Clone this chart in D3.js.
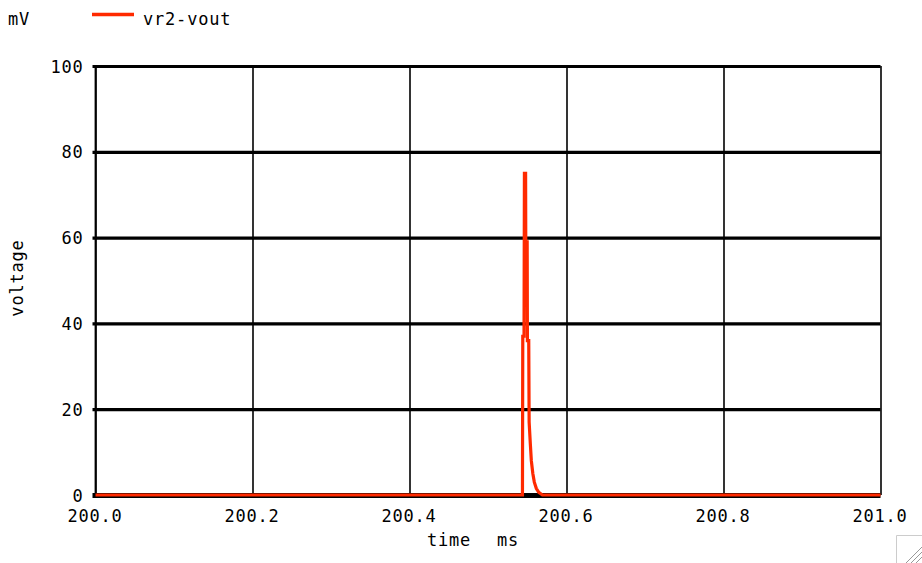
<!DOCTYPE html>
<html>
<head>
<meta charset="utf-8">
<script src="https://cdn.jsdelivr.net/npm/d3@7/dist/d3.min.js"></script>
<style>
  html, body { margin: 0; padding: 0; background: #fff; }
  svg { display: block; }
  text { font-family: "DejaVu Sans Mono", "Liberation Mono", monospace; font-size: 17px; fill: #000; letter-spacing: 0.8px; }
</style>
</head>
<body>
<svg id="chart" width="922" height="563"></svg>
<script>
// ---- data ----
const seriesName = "vr2-vout";
const timeMs = [200.0, 200.5439, 200.5443, 200.5459, 200.5464, 200.5479, 200.5481, 200.5499, 200.5502,
                200.5519, 200.5524, 200.5539, 200.5552, 200.5571, 200.5590, 200.5616, 200.5647,
                200.5693, 201.0];
const voltageMv = [0, 0, 37, 37, 75, 75, 59, 59, 36, 36, 17, 12, 8, 5, 3, 1.5, 0.6, 0, 0];
const xTicks = [200.0, 200.2, 200.4, 200.6, 200.8, 201.0];
const yTicks = [0, 20, 40, 60, 80, 100];
const xDomain = [200.0, 201.0];
const yDomain = [0, 100];

// ---- layout ----
const svg = d3.select("#chart");
const mLeft = 95.5, mRight = 880.5, mTop = 66, mBottom = 495;
const x = d3.scaleLinear().domain(xDomain).range([mLeft, mRight]);
const y = d3.scaleLinear().domain(yDomain).range([mBottom, mTop]);
const red = "#ff2a00";

// vertical grid lines (thin)
const xg = svg.append("g").attr("transform", `translate(0,${mBottom})`)
  .call(d3.axisBottom(x).tickValues(xTicks).tickSize(-(mBottom - mTop)).tickFormat(d3.format(".1f")));
xg.select(".domain").remove();
xg.selectAll(".tick line").attr("stroke", "#000").attr("stroke-width", 1.6);
xg.selectAll(".tick text").attr("font-size", 17).attr("font-family", "DejaVu Sans Mono")
  .attr("y", 27).attr("dy", null).attr("x", -1).attr("fill", "#000");

// horizontal grid lines (thick)
const yg = svg.append("g").attr("transform", `translate(${mLeft},0)`)
  .call(d3.axisLeft(y).tickValues(yTicks).tickSize(-(mRight - mLeft)));
yg.select(".domain").remove();
yg.selectAll(".tick line").attr("x1", -3).attr("stroke", "#000")
  .attr("stroke-width", d => d === 0 ? 5 : 3.2);
yg.selectAll(".tick text").attr("font-size", 17).attr("font-family", "DejaVu Sans Mono").attr("fill", "#000")
  .attr("x", -12).attr("dy", "0.36em");

// left axis line
svg.append("line").attr("x1", mLeft).attr("x2", mLeft).attr("y1", mTop).attr("y2", mBottom)
  .attr("stroke", "#000").attr("stroke-width", 1.8);

// series
const pts = timeMs.map((t, i) => [t, voltageMv[i]]);
svg.append("path").datum(pts)
  .attr("fill", "none").attr("stroke", red).attr("stroke-width", 3.2).attr("stroke-linejoin", "miter")
  .attr("d", d3.line().x(d => x(d[0])).y(d => y(d[1])));

// axis titles
svg.append("text").attr("x", 8).attr("y", 25).text("mV");
svg.append("text").attr("transform", "translate(23,278) rotate(-90)").attr("text-anchor", "middle").text("voltage");
svg.append("text").attr("x", 427).attr("y", 546).text("time");
svg.append("text").attr("x", 497).attr("y", 546).text("ms");

// legend
svg.append("line").attr("x1", 92).attr("x2", 134).attr("y1", 14.5).attr("y2", 14.5)
  .attr("stroke", red).attr("stroke-width", 3.5);
svg.append("text").attr("x", 143).attr("y", 25).text(seriesName);

// resize grip
const grip = svg.append("g");
grip.append("path").attr("d", "M896.5,563 V535.5 H922").attr("fill", "none").attr("stroke", "#ccc").attr("stroke-width", 1);
[0, 5, 10].forEach(o => {
  grip.append("line").attr("x1", 922 - 2 - (14 - o)).attr("y1", 563)
    .attr("x2", 922).attr("y2", 563 - 2 - (14 - o)).attr("stroke", "#999").attr("stroke-width", 1);
});
</script>
</body>
</html>
